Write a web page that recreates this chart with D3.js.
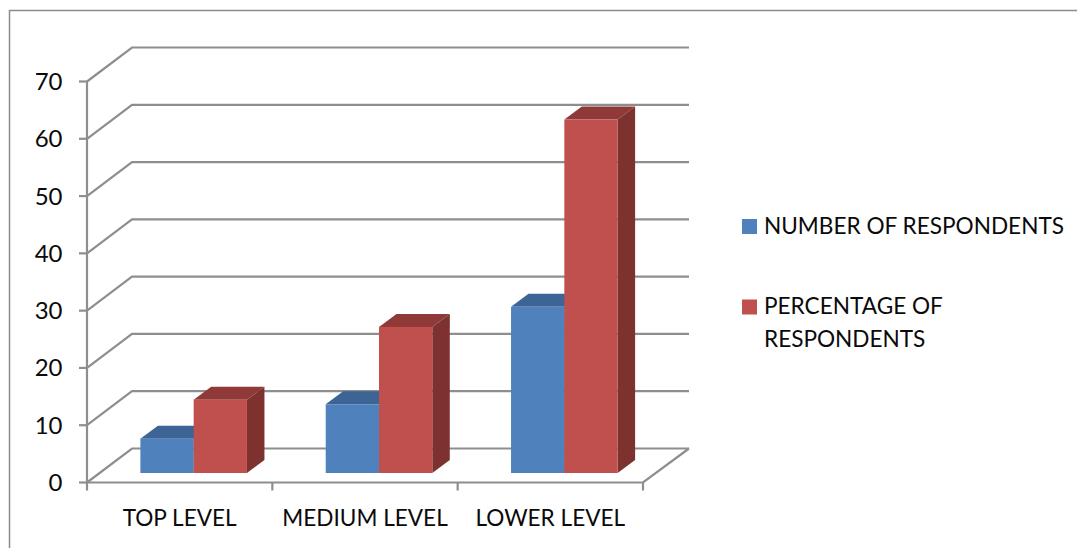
<!DOCTYPE html>
<html>
<head>
<meta charset="utf-8">
<script src="https://cdn.jsdelivr.net/npm/d3@7/dist/d3.min.js"></script>
<style>
  html, body { margin: 0; padding: 0; background: #fff; }
  svg { display: block; }
  text { font-family: Lato, "Open Sans", sans-serif; fill: #0a0a0a; }
</style>
</head>
<body>
<svg id="chart" width="1077" height="548"></svg>
<script>
const categories = ["TOP LEVEL", "MEDIUM LEVEL", "LOWER LEVEL"];
const seriesNames = ["NUMBER OF RESPONDENTS", "PERCENTAGE OF RESPONDENTS"];
const numberOfRespondents = [6, 12, 29];
const percentageOfRespondents = [12.8, 25.5, 61.7];
const yTicks = [0, 10, 20, 30, 40, 50, 60, 70];

const faceColors = ["#4f81bd", "#c0504d"];
const topColors = ["#3c6494", "#8f3a38"];
const sideColors = ["#31506f", "#7d3230"];
const gridColor = "#8e8e8e";
const fontSize = 22.6;
const tickFontSize = 24;

const svg = d3.select("#chart");

// Oblique projection: the wall sits behind the front plane by wallDepth.
const wallDepth = { x: 45, y: -34 };
const barDepth = { x: 17.5, y: -13 };
const barInset = { x: 14, y: -9.5 };

const x = d3.scaleBand().domain(categories).range([87, 643]).paddingInner(0.425).paddingOuter(0.2125);
const series = d3.scaleBand().domain([0, 1]).range([0, x.bandwidth()]);
const y = d3.scaleLinear().domain([0, 70]).range([482.5, 81.5]);

// Outer frame, only the top and left edges fall inside the canvas.
svg.append("path")
  .attr("d", "M9.5,548V10.5H1077")
  .attr("fill", "none")
  .attr("stroke", "#8c8c8c")
  .attr("stroke-width", 1.5);

// Gridlines wrapping from the side wall onto the back wall.
const grid = svg.append("g").attr("fill", "none").attr("stroke", gridColor).attr("stroke-width", 2.2);
const [x0, x1] = x.range();
yTicks.forEach(t => {
  const yt = y(t);
  grid.append("path").attr("d", d3.line()([
    [x0, yt],
    [x0 + wallDepth.x, yt + wallDepth.y],
    [x1 + wallDepth.x + 1, yt + wallDepth.y]
  ]));
  grid.append("path").attr("d", `M${x0 - 8},${yt}H${x0}`);
});
grid.append("path").attr("d", `M${x0},${y(0)}V${y(70)}`);
grid.append("path").attr("d", d3.line()([
  [x0, y(0)],
  [x1, y(0)],
  [x1 + wallDepth.x + 1, y(0) + wallDepth.y]
]));
const step = x.step();
d3.range(categories.length + 1).forEach(i => {
  const xt = x0 + i * step;
  grid.append("path").attr("d", `M${xt},${y(0)}V${y(0) + 8}`);
});

// Axis labels
svg.append("g").selectAll("text").data(yTicks).join("text")
  .attr("x", 62.5)
  .attr("y", d => y(d) + 8.5)
  .attr("text-anchor", "end")
  .attr("font-size", tickFontSize)
  .text(d => d);

svg.append("g").selectAll("text").data(categories).join("text")
  .attr("x", d => x(d) + x.bandwidth() / 2)
  .attr("y", 526)
  .attr("text-anchor", "middle")
  .attr("font-size", fontSize)
  .text(d => d);

// Bars: top and side faces first, then the front face.
const base = y(0);
const heightOf = v => y(0) - y(v);
const table = categories.map((c, i) => ({ c, values: [numberOfRespondents[i], percentageOfRespondents[i]] }));
const bars = svg.append("g");
table.forEach(row => {
  row.values.forEach((v, s) => {
    const bx0 = x(row.c) + series(s) + barInset.x;
    const bx1 = bx0 + series.bandwidth();
    const by0 = base + barInset.y;
    const by1 = by0 - heightOf(v);
    const g = bars.append("g");
    g.append("path")
      .attr("fill", topColors[s])
      .attr("d", d3.line()([
        [bx0, by1],
        [bx0 + barDepth.x, by1 + barDepth.y],
        [bx1 + barDepth.x, by1 + barDepth.y],
        [bx1, by1]
      ]) + "Z");
    g.append("path")
      .attr("fill", sideColors[s])
      .attr("d", d3.line()([
        [bx1, by1],
        [bx1 + barDepth.x, by1 + barDepth.y],
        [bx1 + barDepth.x, by0 + barDepth.y],
        [bx1, by0]
      ]) + "Z");
    g.append("rect")
      .attr("x", bx0).attr("y", by1)
      .attr("width", series.bandwidth()).attr("height", by0 - by1)
      .attr("fill", faceColors[s]);
  });
});

// Legend
const legend = svg.append("g");
legend.append("rect").attr("x", 742).attr("y", 219).attr("width", 15).attr("height", 15).attr("fill", faceColors[0]);
legend.append("text").attr("x", 764).attr("y", 233.5).attr("font-size", fontSize).text(seriesNames[0]);
legend.append("rect").attr("x", 742).attr("y", 299.5).attr("width", 15).attr("height", 15).attr("fill", faceColors[1]);
legend.append("text").attr("x", 764).attr("y", 314).attr("font-size", fontSize).text("PERCENTAGE OF");
legend.append("text").attr("x", 764).attr("y", 347).attr("font-size", fontSize).text("RESPONDENTS");
</script>
</body>
</html>
